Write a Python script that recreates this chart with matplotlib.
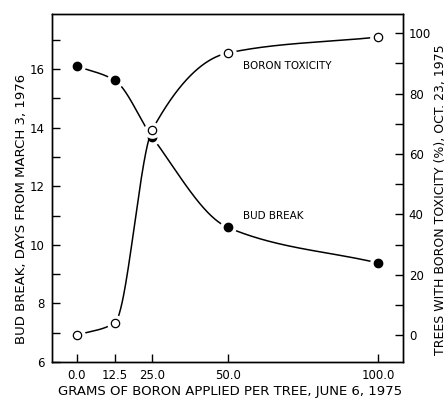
import numpy as np
import matplotlib
matplotlib.use("Agg")
import matplotlib.pyplot as plt

# values
grams = [0.0, 12.5, 25.0, 50.0, 100.0]
bud_break = [16.1, 15.62, 13.68, 10.6, 9.38]
toxicity = [0.0, 4.0, 68.0, 93.4, 98.7]
x_tick_labels = ["0.0", "12.5", "25.0", "50.0", "100.0"]


def pchip(x, y, xs):
    # monotone cubic through the points, used only to draw the smooth line
    x = np.asarray(x, float)
    y = np.asarray(y, float)
    h = np.diff(x)
    d = np.diff(y) / h
    m = np.zeros_like(y)
    for k in range(1, len(x) - 1):
        if d[k - 1] * d[k] > 0:
            w1 = 2 * h[k] + h[k - 1]
            w2 = h[k] + 2 * h[k - 1]
            m[k] = (w1 + w2) / (w1 / d[k - 1] + w2 / d[k])
    m[0] = d[0]
    m[-1] = d[-1]
    idx = np.clip(np.searchsorted(x, xs) - 1, 0, len(x) - 2)
    t = (xs - x[idx]) / h[idx]
    h00 = 2 * t**3 - 3 * t**2 + 1
    h10 = t**3 - 2 * t**2 + t
    h01 = -2 * t**3 + 3 * t**2
    h11 = t**3 - t**2
    return h00 * y[idx] + h10 * h[idx] * m[idx] + h01 * y[idx + 1] + h11 * h[idx] * m[idx + 1]


fig = plt.figure(figsize=(4.48, 3.99), dpi=100)
ax = fig.add_axes([0.116, 0.0927, 0.784, 0.872])
ax2 = ax.twinx()

xs = np.linspace(0, 100, 600)

ax.plot(xs, pchip(grams, bud_break, xs), color="black", lw=1.1, zorder=1)
ax.plot(grams, bud_break, "o", ms=11, color="white", zorder=2)
ax.plot(grams, bud_break, "o", ms=6, color="black", zorder=3)

ax2.plot(xs, pchip(grams, toxicity, xs), color="black", lw=1.1, zorder=1)
ax2.plot(grams, toxicity, "o", ms=11, color="white", zorder=2)
ax2.plot(grams, toxicity, "o", ms=6, mfc="white", mec="black", mew=0.9, zorder=3)

ax.set_xlim(-8.3, 108.3)
ax.set_ylim(6, 17.88)
ax2.set_ylim(-8.9, 106.3)

ax.set_xticks(grams)
ax.set_xticklabels(x_tick_labels)
ax.set_yticks(np.arange(6, 18, 1))
ax.set_yticklabels([str(v) if v % 2 == 0 else "" for v in range(6, 18)])
ax2.set_yticks(np.arange(0, 110, 10))
ax2.set_yticklabels([str(v) if v % 20 == 0 else "" for v in range(0, 110, 10)])

for a in (ax, ax2):
    a.tick_params(direction="in", length=6, width=1, labelsize=8.5, pad=5)
    for s in a.spines.values():
        s.set_linewidth(1)
ax2.tick_params(labelsize=8.5, pad=4)

fig.text(0.513, 0.018, "GRAMS OF BORON APPLIED PER TREE, JUNE 6, 1975",
         fontsize=9.5, ha="center", va="center")
fig.text(0.049, 0.476, "BUD BREAK, DAYS FROM MARCH 3, 1976",
         fontsize=9.5, rotation=90, ha="center", va="center")
fig.text(0.983, 0.5, "TREES WITH BORON TOXICITY (%), OCT. 23, 1975",
         fontsize=9, rotation=90, ha="center", va="center")

ax.text(55, 16.1, "BORON TOXICITY", fontsize=7.5, va="center")
ax.text(55, 10.98, "BUD BREAK", fontsize=7.5, va="center")

fig.savefig("out.png", dpi=100)
